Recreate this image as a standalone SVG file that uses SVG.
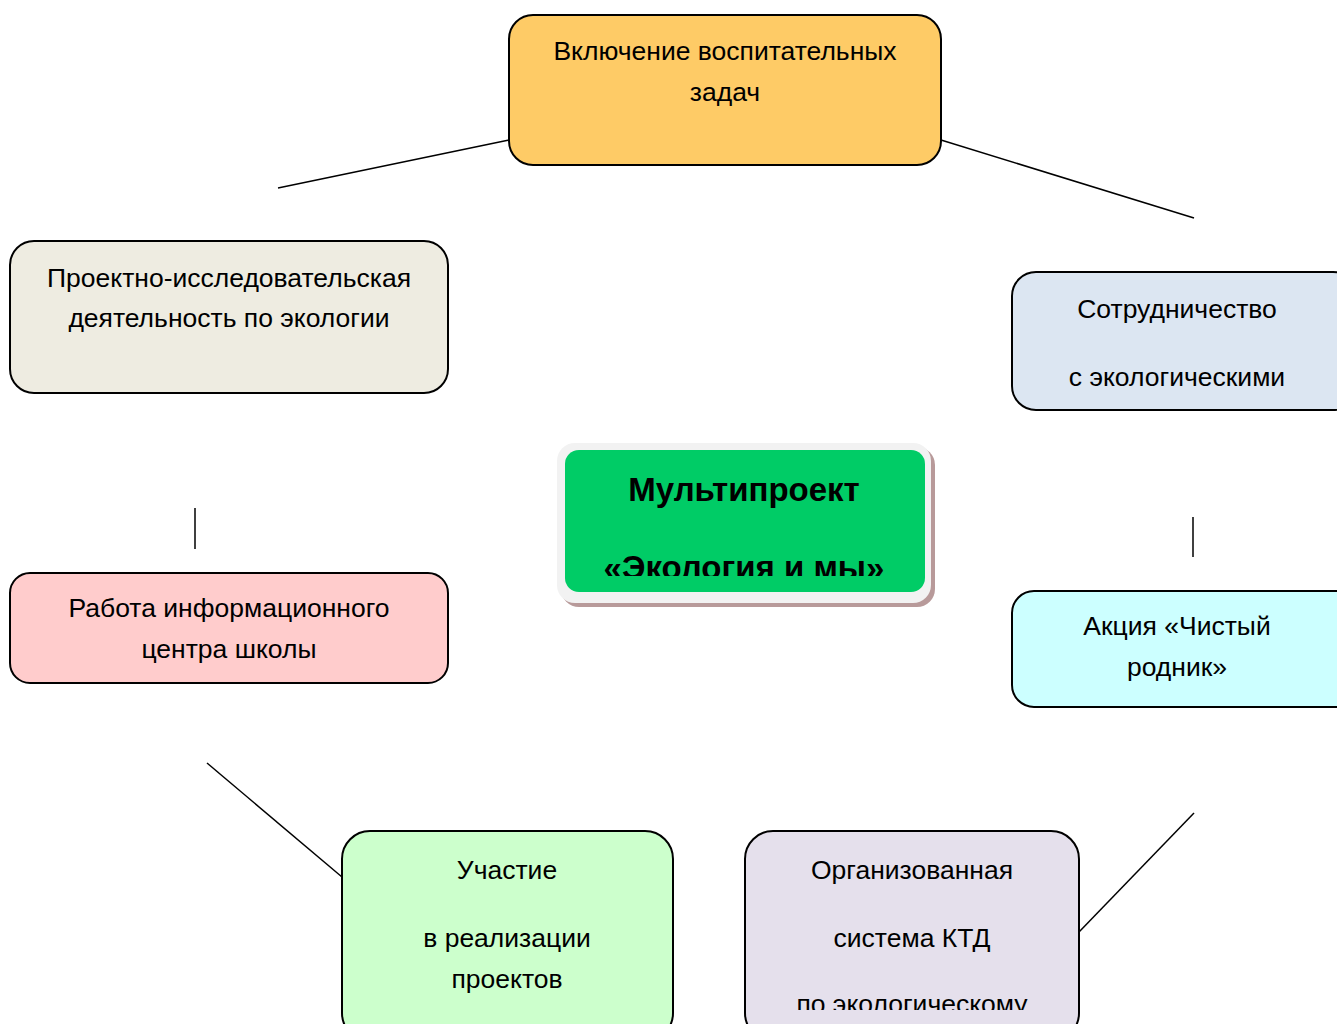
<svg xmlns="http://www.w3.org/2000/svg" width="1337" height="1024" viewBox="0 0 1337 1024">
<defs>
<style>
.box{stroke:#000;stroke-width:2}
.t{font-family:"Liberation Sans","DejaVu Sans",sans-serif;font-size:26.5px;fill:#000;text-anchor:middle}
.tb{font-family:"Liberation Sans","DejaVu Sans",sans-serif;font-size:33px;font-weight:bold;fill:#000;text-anchor:middle}
.ln{stroke:#000;stroke-width:1.5;fill:none}
</style>
<clipPath id="cc"><rect x="565" y="450" width="360" height="126"/></clipPath>
<clipPath id="cb"><rect x="745" y="831" width="334" height="179"/></clipPath>
</defs>
<rect width="1337" height="1024" fill="#fff"/>
<g id="connectors">
<line class="ln" x1="278" y1="188" x2="509" y2="140"/>
<line class="ln" x1="941" y1="140" x2="1194" y2="218"/>
<line class="ln" x1="195" y1="508" x2="195" y2="549" stroke-width="2"/>
<line class="ln" x1="1193" y1="517" x2="1193" y2="557" stroke-width="2"/>
<line class="ln" x1="207" y1="763" x2="342" y2="877"/>
<line class="ln" x1="1194" y1="813" x2="1079" y2="932"/>
</g>
<g id="n-top">
<rect class="box" x="509" y="15" width="432" height="150" rx="24" fill="#FECB66"/>
<text class="t" x="725" y="60">Включение воспитательных</text>
<text class="t" x="725" y="101">задач</text>
</g>
<g id="n-left1">
<rect class="box" x="10" y="241" width="438" height="152" rx="24" fill="#EEECE1"/>
<text class="t" x="229" y="287">Проектно-исследовательская</text>
<text class="t" x="229" y="327">деятельность по экологии</text>
</g>
<g id="n-right1">
<rect class="box" x="1012" y="272" width="345" height="138" rx="24" fill="#DCE6F2"/>
<text class="t" x="1177" y="318">Сотрудничество</text>
<text class="t" x="1177" y="386">с экологическими</text>
</g>
<g id="n-center">
<rect x="561" y="447" width="374" height="160" rx="18" fill="#B89A9A"/>
<rect x="557" y="443" width="374" height="160" rx="18" fill="#F2F2F2"/>
<rect x="565" y="450" width="360" height="142" rx="14" fill="#00CC66"/>
<g clip-path="url(#cc)">
<text class="tb" x="744" y="501">Мультипроект</text>
<text class="tb" x="744" y="579">«Экология и мы»</text>
</g>
</g>
<g id="n-left2">
<rect class="box" x="10" y="573" width="438" height="110" rx="20" fill="#FFCCCC"/>
<text class="t" x="229" y="617">Работа информационного</text>
<text class="t" x="229" y="658">центра школы</text>
</g>
<g id="n-right2">
<rect class="box" x="1012" y="591" width="345" height="116" rx="22" fill="#CCFFFF"/>
<text class="t" x="1177" y="635">Акция «Чистый</text>
<text class="t" x="1177" y="676">родник»</text>
</g>
<g id="n-bottom1">
<rect class="box" x="342" y="831" width="331" height="210" rx="28" fill="#CCFFCC"/>
<text class="t" x="507" y="879">Участие</text>
<text class="t" x="507" y="947">в реализации</text>
<text class="t" x="507" y="988">проектов</text>
</g>
<g id="n-bottom2">
<rect class="box" x="745" y="831" width="334" height="210" rx="28" fill="#E5E0EC"/>
<text class="t" x="912" y="879">Организованная</text>
<text class="t" x="912" y="947">система КТД</text>
<g clip-path="url(#cb)"><text class="t" x="912" y="1013">по экологическому</text></g>
</g>
</svg>
